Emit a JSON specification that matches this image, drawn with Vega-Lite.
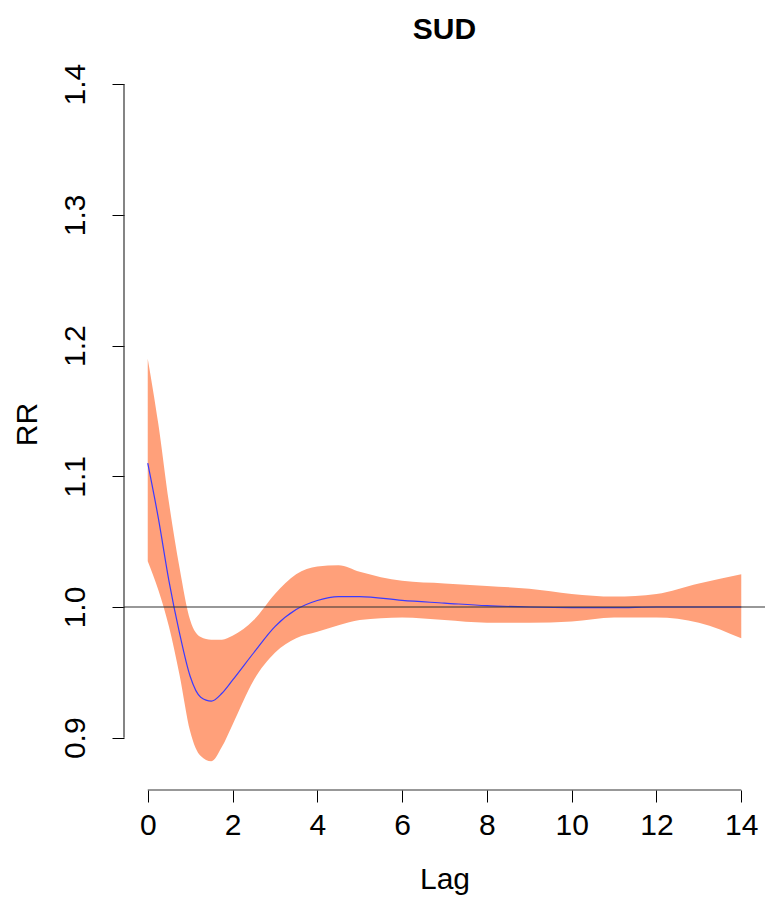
{
  "$schema": "https://vega.github.io/schema/vega-lite/v6.json",
  "width": 641,
  "height": 732,
  "autosize": "none",
  "padding": {"left": 124, "top": 58, "right": 5, "bottom": 112},
  "background": "white",
  "title": {"text": "SUD", "font": "Liberation Sans", "fontSize": 30, "fontWeight": "bold", "offset": 13, "anchor": "middle"},
  "config": {"view": {"stroke": null}, "font": "Liberation Sans"},
  "datasets": {
    "curve": [
      {"lag": 0, "fit": 1.11, "low": 1.035, "high": 1.19},
      {"lag": 0.25, "fit": 1.068, "low": 1.013, "high": 1.14},
      {"lag": 0.5, "fit": 1.02, "low": 0.985, "high": 1.08},
      {"lag": 0.75, "fit": 0.98, "low": 0.948, "high": 1.03},
      {"lag": 1.0, "fit": 0.947, "low": 0.905, "high": 0.99},
      {"lag": 1.25, "fit": 0.931, "low": 0.886, "high": 0.977},
      {"lag": 1.5, "fit": 0.928, "low": 0.882, "high": 0.975},
      {"lag": 1.75, "fit": 0.934, "low": 0.893, "high": 0.975},
      {"lag": 2.0, "fit": 0.944, "low": 0.91, "high": 0.978},
      {"lag": 2.5, "fit": 0.965, "low": 0.944, "high": 0.99},
      {"lag": 3.0, "fit": 0.985, "low": 0.965, "high": 1.01},
      {"lag": 3.5, "fit": 0.998, "low": 0.976, "high": 1.025},
      {"lag": 4.0, "fit": 1.005, "low": 0.981, "high": 1.031},
      {"lag": 4.5, "fit": 1.008, "low": 0.986, "high": 1.032},
      {"lag": 5.0, "fit": 1.008, "low": 0.99, "high": 1.027},
      {"lag": 6.0, "fit": 1.005, "low": 0.992, "high": 1.02},
      {"lag": 7.0, "fit": 1.003, "low": 0.99, "high": 1.018},
      {"lag": 8.0, "fit": 1.001, "low": 0.988, "high": 1.016},
      {"lag": 9.0, "fit": 1.0, "low": 0.988, "high": 1.014},
      {"lag": 10.0, "fit": 0.9995, "low": 0.989, "high": 1.01},
      {"lag": 11.0, "fit": 0.9995, "low": 0.992, "high": 1.008},
      {"lag": 12.0, "fit": 1.0, "low": 0.992, "high": 1.01},
      {"lag": 13.0, "fit": 1.0, "low": 0.988, "high": 1.018},
      {"lag": 14.0, "fit": 1.0, "low": 0.976, "high": 1.025}
    ],
    "xaxis": [{"x": 0, "x2": 14, "y": 0.86}],
    "yaxis": [{"x": -0.56, "y": 0.9, "y2": 1.4}],
    "ref": [{"x": -0.56, "x2": 14.56, "y": 1.0}]
  },
  "encoding": {
    "x": {"type": "quantitative", "scale": {"domain": [-0.56, 14.56], "nice": false, "zero": false}},
    "y": {"type": "quantitative", "scale": {"domain": [0.86, 1.42], "nice": false, "zero": false}}
  },
  "layer": [
    {
      "data": {"name": "curve"},
      "mark": {"type": "area", "color": "#FFA07A", "opacity": 1, "interpolate": "monotone"},
      "encoding": {
        "x": {"field": "lag", "type": "quantitative",
          "axis": {"title": "Lag", "values": [0, 2, 4, 6, 8, 10, 12, 14], "domain": false, "grid": false, "tickSize": 12, "tickColor": "black", "labelFontSize": 30, "labelColor": "black", "labelPadding": 8, "titleFontSize": 30, "titleFontWeight": "normal", "titleColor": "black", "titlePadding": 24, "offset": 0}},
        "y": {"field": "low", "type": "quantitative",
          "axis": {"title": "RR", "values": [0.9, 1.0, 1.1, 1.2, 1.3, 1.4], "format": ".1f", "domain": false, "grid": false, "tickSize": 12, "tickColor": "black", "labelAngle": -90, "labelAlign": "center", "labelBaseline": "bottom", "labelFontSize": 30, "labelColor": "black", "labelPadding": 22, "titleFontSize": 30, "titleFontWeight": "normal", "titleColor": "black", "titlePadding": 18}},
        "y2": {"field": "high"}
      }
    },
    {
      "data": {"name": "curve"},
      "mark": {"type": "line", "color": "#3a3aff", "strokeWidth": 1.2, "interpolate": "monotone"},
      "encoding": {"x": {"field": "lag"}, "y": {"field": "fit"}}
    },
    {
      "data": {"name": "ref"},
      "mark": {"type": "rule", "color": "#333333", "strokeWidth": 1.2},
      "encoding": {"x": {"field": "x"}, "x2": {"field": "x2"}, "y": {"field": "y"}}
    },
    {
      "data": {"name": "xaxis"},
      "mark": {"type": "rule", "color": "#333333", "strokeWidth": 1.2},
      "encoding": {"x": {"field": "x"}, "x2": {"field": "x2"}, "y": {"field": "y"}}
    },
    {
      "data": {"name": "yaxis"},
      "mark": {"type": "rule", "color": "#333333", "strokeWidth": 1.2},
      "encoding": {"x": {"field": "x"}, "y": {"field": "y"}, "y2": {"field": "y2"}}
    }
  ]
}
